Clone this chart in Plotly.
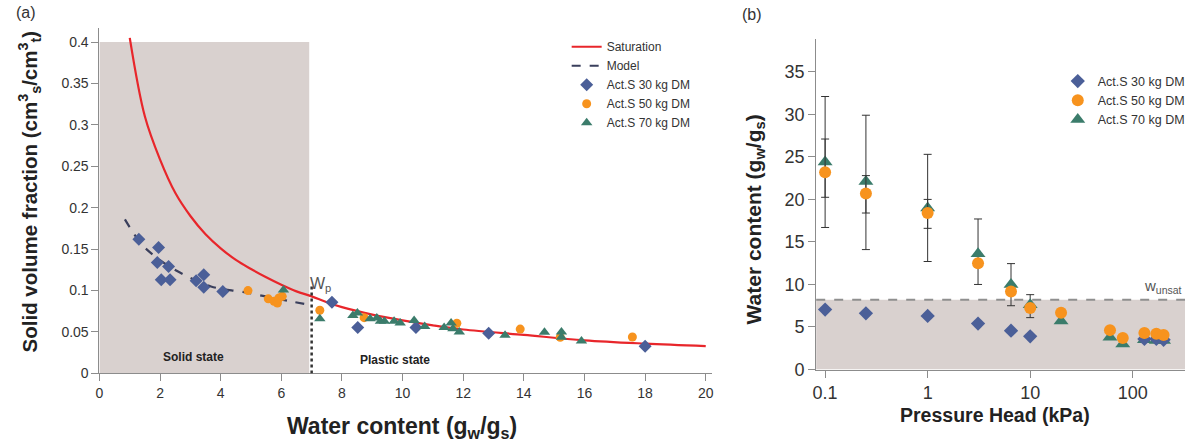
import plotly.graph_objects as go

W, H = 1190, 445

# ---------------- Panel (a) data ----------------
sat_w = [1.0, 1.5, 2.0, 2.5, 3.0, 3.5, 4.0, 4.5, 5.0, 5.5, 6.0, 6.5, 7.0, 7.5, 8.0, 9.0, 10.0, 11.0, 12.0, 14.0, 16.0, 18.0, 20.0]
sat_phi = [0.405, 0.31, 0.258, 0.218, 0.19, 0.168, 0.151, 0.137, 0.126, 0.116, 0.107, 0.099, 0.093, 0.086, 0.080, 0.071, 0.064, 0.058, 0.053, 0.0465, 0.040, 0.036, 0.033]

model_w = [0.84, 1.39, 1.88, 2.64, 3.68, 4.78, 6.3, 6.9]
model_phi = [0.186, 0.156, 0.140, 0.122, 0.105, 0.098, 0.087, 0.083]

a30_w = [1.30, 1.95, 1.91, 2.28, 2.04, 2.33, 3.19, 3.44, 3.44, 4.07, 7.67, 8.52, 10.44, 12.84, 18.0]
a30_phi = [0.162, 0.152, 0.134, 0.129, 0.113, 0.113, 0.112, 0.119, 0.104, 0.099, 0.0858, 0.0555, 0.0555, 0.0484, 0.0327]

a50_w = [4.9, 5.57, 5.76, 5.87, 5.92, 6.03, 7.27, 8.73, 11.79, 13.88, 15.2, 17.58]
a50_phi = [0.100, 0.090, 0.087, 0.085, 0.091, 0.093, 0.0763, 0.0673, 0.0606, 0.0535, 0.0437, 0.044]

a70_w = [6.07, 7.27, 8.36, 8.51, 8.93, 9.15, 9.27, 9.4, 9.72, 9.92, 10.38, 10.73, 11.37, 11.6, 11.66, 11.87, 13.38, 14.68, 15.24, 15.24, 15.9]
a70_phi = [0.1007, 0.066, 0.070, 0.073, 0.066, 0.067, 0.063, 0.063, 0.063, 0.061, 0.064, 0.0566, 0.0555, 0.061, 0.054, 0.050, 0.046, 0.0496, 0.050, 0.0437, 0.039]

w_p = 7.0            # plastic limit
solid_edge = 6.92    # end of shaded "solid state" zone
a_xticks = [0, 2, 4, 6, 8, 10, 12, 14, 16, 18, 20]
a_yticks = [0, 0.05, 0.1, 0.15, 0.2, 0.25, 0.3, 0.35, 0.4]
a_yticklabels = ["0", "0.05", "0.1", "0.15", "0.2", "0.25", "0.3", "0.35", "0.4"]

# ---------------- Panel (b) data ----------------
P = [0.1, 0.25, 1, 3.1, 6.5, 10, 20, 60, 80, 130, 170, 200]
b30 = [7.05, 6.6, 6.3, 5.4, 4.56, 3.9, None, None, None, 3.6, 3.6, 3.5]
b50 = [23.2, 20.7, 18.4, 12.5, 9.16, 7.24, 6.67, 4.63, 3.7, 4.3, 4.2, 4.05]
b70 = [24.4, 22.1, 19.0, 13.6, 10.0, 7.6, 5.7, 3.8, 3.0, 3.5, 3.4, 3.4]
b50_up = [3.9, 2.1, 1.6, 0, 0, 0, 0, 0, 0, 0.4, 0, 0]
b50_dn = [2.95, 2.3, 1.8, 0, 0, 0, 0, 0, 0, 0, 0, 0]
b70_up = [7.7, 7.8, 6.3, 4.1, 2.45, 1.2, 0, 0, 0, 0, 0, 0]
b70_dn = [7.7, 8.0, 6.3, 3.6, 2.5, 1.5, 0, 0, 0, 0, 0, 0]
w_unsat = 8.2
b_xticks = [0.1, 1, 10, 100]
b_xticklabels = ["0.1", "1", "10", "100"]
b_yticks = [0, 5, 10, 15, 20, 25, 30, 35]

# ---------------- Styles ----------------
C30 = "#4b5f98"
C50 = "#f7931e"
C70 = "#3b7c6b"
CRED = "#e8262b"
CMOD = "#3a3f5c"
SHADE = "#d9d1cf"
AXC = "#8c8c8c"
TXT = "#333333"
FONT = "Liberation Sans, Arial, sans-serif"

fig = go.Figure()

# Panel (a) traces
fig.add_trace(go.Scatter(x=sat_w, y=sat_phi, mode="lines", name="Saturation",
                         line=dict(color=CRED, width=2.2, shape="spline"),
                         xaxis="x", yaxis="y", legend="legend"))
fig.add_trace(go.Scatter(x=model_w, y=model_phi, mode="lines", name="Model",
                         line=dict(color=CMOD, width=2.2, dash="dash", shape="spline"),
                         xaxis="x", yaxis="y", legend="legend"))
fig.add_trace(go.Scatter(x=a30_w, y=a30_phi, mode="markers", name="Act.S 30 kg DM",
                         marker=dict(symbol="diamond", size=10, color=C30),
                         xaxis="x", yaxis="y", legend="legend"))
fig.add_trace(go.Scatter(x=a50_w, y=a50_phi, mode="markers", name="Act.S 50 kg DM",
                         marker=dict(symbol="circle", size=9, color=C50),
                         xaxis="x", yaxis="y", legend="legend"))
fig.add_trace(go.Scatter(x=a70_w, y=a70_phi, mode="markers", name="Act.S 70 kg DM",
                         marker=dict(symbol="triangle-up", size=10, color=C70),
                         xaxis="x", yaxis="y", legend="legend"))

# Panel (b) traces
fig.add_trace(go.Scatter(x=P, y=b70, mode="markers", name="Act.S 70 kg DM",
                         marker=dict(symbol="triangle-up", size=13, color=C70),
                         error_y=dict(type="data", array=b70_up, arrayminus=b70_dn,
                                      color="#333333", thickness=1, width=4),
                         xaxis="x2", yaxis="y2", legend="legend2", legendrank=3))
fig.add_trace(go.Scatter(x=P, y=b30, mode="markers", name="Act.S 30 kg DM",
                         marker=dict(symbol="diamond", size=11, color=C30),
                         xaxis="x2", yaxis="y2", legend="legend2", legendrank=1))
fig.add_trace(go.Scatter(x=P, y=b50, mode="markers", name="Act.S 50 kg DM",
                         marker=dict(symbol="circle", size=12, color=C50),
                         error_y=dict(type="data", array=b50_up, arrayminus=b50_dn,
                                      color="#333333", thickness=1, width=4),
                         xaxis="x2", yaxis="y2", legend="legend2", legendrank=2))

shapes = [
    # solid-state shading (panel a)
    dict(type="rect", xref="x", yref="y", x0=0, x1=solid_edge, y0=0, y1=0.4,
         fillcolor=SHADE, line=dict(width=0), layer="below"),
    # plastic-limit dotted line
    dict(type="line", xref="x", yref="y", x0=w_p, x1=w_p, y0=0, y1=0.105,
         line=dict(color="#333333", width=2.5, dash="dot")),
    # unsaturated shading (panel b)
    dict(type="rect", xref="x2 domain", yref="y2", x0=0, x1=1, y0=0, y1=w_unsat,
         fillcolor=SHADE, line=dict(width=0), layer="below"),
    dict(type="line", xref="x2 domain", yref="y2", x0=0, x1=1, y0=w_unsat, y1=w_unsat,
         line=dict(color="#8f8f8f", width=2, dash="dash")),
]

annotations = [
    dict(text="(a)", x=22 / W, y=1 - 13 / H, xref="paper", yref="paper", showarrow=False,
         font=dict(size=16, color=TXT, family=FONT), xanchor="center", yanchor="middle"),
    dict(text="(b)", x=752 / W, y=1 - 15 / H, xref="paper", yref="paper", showarrow=False,
         font=dict(size=16, color=TXT, family=FONT), xanchor="center", yanchor="middle"),
    dict(text="<b>Water content (g<sub>w</sub>/g<sub>s</sub>)</b>", x=400 / W, y=1 - 437 / H,
         xref="paper", yref="paper", showarrow=False, xanchor="center", yanchor="middle",
         font=dict(size=23, color="#222222", family=FONT)),
    dict(text="<b>Solid volume fraction (cm<sup>3</sup><sub>s</sub>/cm<sup>3</sup><sub>t</sub>)</b>",
         x=26 / W, y=1 - 196 / H, xref="paper", yref="paper", showarrow=False, textangle=-90,
         xanchor="center", yanchor="middle", font=dict(size=20.5, color="#222222", family=FONT)),
    dict(text="<b>Water content (g<sub>w</sub>/g<sub>s</sub>)</b>", x=755 / W, y=1 - 225 / H,
         xref="paper", yref="paper", showarrow=False, textangle=-90,
         xanchor="center", yanchor="middle", font=dict(size=21, color="#222222", family=FONT)),
    dict(text="<b>Pressure Head (kPa)</b>", x=997 / W, y=1 - 425 / H,
         xref="paper", yref="paper", showarrow=False, xanchor="center", yanchor="middle",
         font=dict(size=19.5, color="#222222", family=FONT)),
    dict(text="<b>Solid state</b>", x=3.1, y=0.02, xref="x", yref="y", showarrow=False,
         font=dict(size=12, color="#222222", family=FONT)),
    dict(text="<b>Plastic state</b>", x=9.75, y=0.0165, xref="x", yref="y", showarrow=False,
         font=dict(size=12, color="#222222", family=FONT)),
    dict(text="W<sub>p</sub>", x=w_p + 0.3, y=0.107, xref="x", yref="y", showarrow=False,
         font=dict(size=16, color="#555555", family=FONT)),
    dict(text="w<sub>unsat</sub>", x=2.3, y=w_unsat + 1.6, xref="x2", yref="y2", showarrow=False,
         font=dict(size=15, color="#555555", family=FONT)),
]

axis_common = dict(showgrid=False, zeroline=False, showline=True, linecolor=AXC, linewidth=1,
                   ticks="outside", ticklen=7, tickcolor=AXC, tickwidth=1)

fig.update_layout(
    width=W, height=H,
    margin=dict(l=0, r=0, t=0, b=0),
    paper_bgcolor="white", plot_bgcolor="rgba(0,0,0,0)",
    font=dict(family=FONT, color=TXT),
    xaxis=dict(domain=[96 / W, 712 / W], range=[0, 20.2], tickvals=a_xticks,
               tickfont=dict(size=14, color=TXT), anchor="y", **axis_common),
    yaxis=dict(domain=[1 - 382 / H, 1 - 29 / H], range=[0, 0.4165], tickvals=a_yticks,
               ticktext=a_yticklabels, tickfont=dict(size=14, color=TXT), anchor="x", **axis_common),
    xaxis2=dict(domain=[817 / W, 1188 / W], type="log", range=[-1.087, 2.51], tickvals=b_xticks,
                ticktext=b_xticklabels, tickfont=dict(size=18, color=TXT), anchor="y2", **axis_common),
    yaxis2=dict(domain=[1 - 378 / H, 1 - 40 / H], range=[0, 38.85], tickvals=b_yticks,
                tickfont=dict(size=18, color=TXT), anchor="x2", **axis_common),
    shapes=shapes,
    annotations=annotations,
    legend=dict(x=566 / W, y=1 - 33 / H, xanchor="left", yanchor="top",
                bgcolor="rgba(0,0,0,0)", font=dict(size=12, color=TXT, family=FONT),
                tracegroupgap=0, itemwidth=30),
    legend2=dict(x=1060 / W, y=1 - 68 / H, xanchor="left", yanchor="top",
                 bgcolor="rgba(0,0,0,0)", font=dict(size=12.5, color=TXT, family=FONT),
                 tracegroupgap=0, itemwidth=30, traceorder="normal"),
)

fig.write_html("out.html")
